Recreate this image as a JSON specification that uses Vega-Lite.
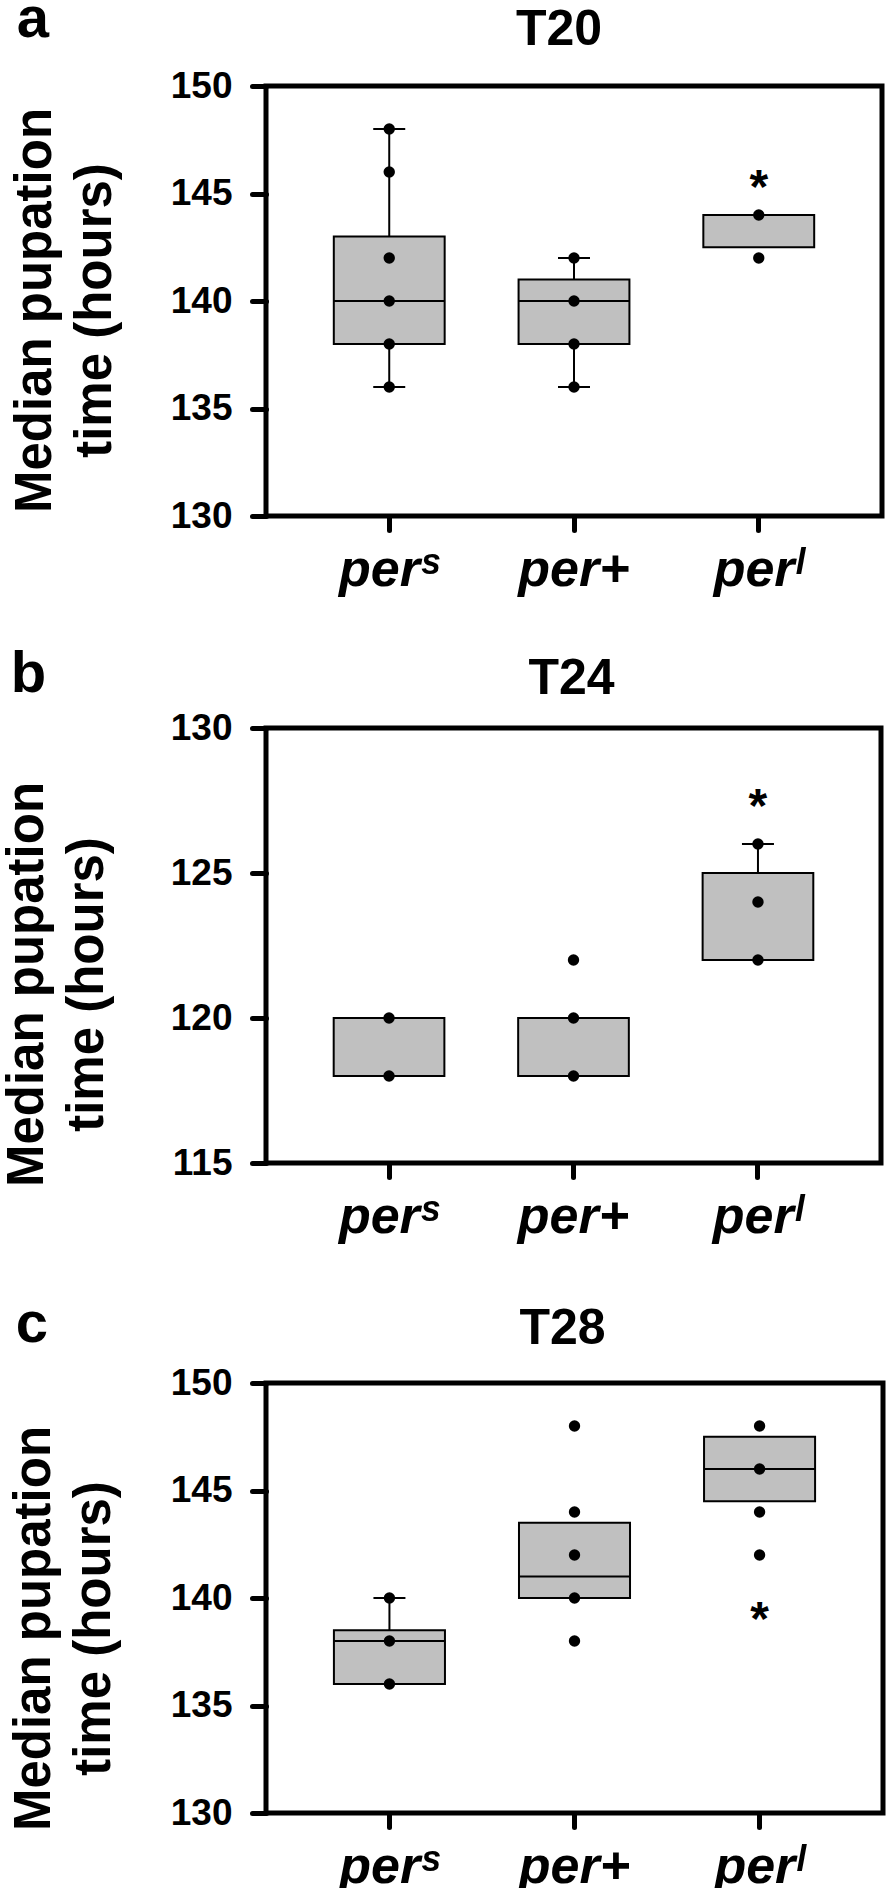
{
  "$schema": "https://vega.github.io/schema/vega-lite/v6.json",
  "background": "white",
  "padding": {"left": -2, "top": -10, "right": 0, "bottom": 0},
  "spacing": 47,
  "config": {
    "view": {"stroke": "black", "strokeWidth": 5},
    "font": "Liberation Sans",
    "axis": {"domain": false, "grid": false, "tickColor": "black", "tickWidth": 5, "tickSize": 14, "tickCap": "round", "labelColor": "black", "labelFont": "Liberation Sans", "labelFontWeight": "bold", "titleFont": "Liberation Sans", "titleFontWeight": "bold", "titleColor": "black"},
    "axisX": {"labelFontSize": 52, "labelFontStyle": "italic", "labelAngle": 0, "labelPadding": 14},
    "axisY": {"labelFontSize": 37, "labelPadding": 20, "titleFontSize": 51, "titleLineHeight": 60, "titlePadding": 49},
    "title": {"font": "Liberation Sans", "fontWeight": "bold", "fontSize": 50, "color": "black"}
  },
  "datasets": {
    "boxes": [
      {"panel": "a", "g": "perˢ", "q1": 138, "q3": 143, "med": 140},
      {"panel": "a", "g": "per+", "q1": 138, "q3": 141, "med": 140},
      {"panel": "a", "g": "perˡ", "q1": 142.5, "q3": 144, "med": null},
      {"panel": "b", "g": "perˢ", "q1": 118, "q3": 120, "med": null},
      {"panel": "b", "g": "per+", "q1": 118, "q3": 120, "med": null},
      {"panel": "b", "g": "perˡ", "q1": 122, "q3": 125, "med": null},
      {"panel": "c", "g": "perˢ", "q1": 136, "q3": 138.5, "med": 138},
      {"panel": "c", "g": "per+", "q1": 140, "q3": 143.5, "med": 141},
      {"panel": "c", "g": "perˡ", "q1": 144.5, "q3": 147.5, "med": 146}
    ],
    "whiskers": [
      {"panel": "a", "g": "perˢ", "lo": 136, "hi": 138},
      {"panel": "a", "g": "perˢ", "lo": 143, "hi": 148},
      {"panel": "a", "g": "per+", "lo": 136, "hi": 138},
      {"panel": "a", "g": "per+", "lo": 141, "hi": 142},
      {"panel": "b", "g": "perˡ", "lo": 125, "hi": 126},
      {"panel": "c", "g": "perˢ", "lo": 138.5, "hi": 140}
    ],
    "caps": [
      {"panel": "a", "g": "perˢ", "v": 136},
      {"panel": "a", "g": "perˢ", "v": 148},
      {"panel": "a", "g": "per+", "v": 136},
      {"panel": "a", "g": "per+", "v": 142},
      {"panel": "b", "g": "perˡ", "v": 126},
      {"panel": "c", "g": "perˢ", "v": 140}
    ],
    "points": [
      {"panel": "a", "g": "perˢ", "v": 148},
      {"panel": "a", "g": "perˢ", "v": 146},
      {"panel": "a", "g": "perˢ", "v": 142},
      {"panel": "a", "g": "perˢ", "v": 140},
      {"panel": "a", "g": "perˢ", "v": 138},
      {"panel": "a", "g": "perˢ", "v": 136},
      {"panel": "a", "g": "per+", "v": 142},
      {"panel": "a", "g": "per+", "v": 140},
      {"panel": "a", "g": "per+", "v": 138},
      {"panel": "a", "g": "per+", "v": 136},
      {"panel": "a", "g": "perˡ", "v": 144},
      {"panel": "a", "g": "perˡ", "v": 142},
      {"panel": "b", "g": "perˢ", "v": 120},
      {"panel": "b", "g": "perˢ", "v": 118},
      {"panel": "b", "g": "per+", "v": 122},
      {"panel": "b", "g": "per+", "v": 120},
      {"panel": "b", "g": "per+", "v": 118},
      {"panel": "b", "g": "perˡ", "v": 126},
      {"panel": "b", "g": "perˡ", "v": 124},
      {"panel": "b", "g": "perˡ", "v": 122},
      {"panel": "c", "g": "perˢ", "v": 140},
      {"panel": "c", "g": "perˢ", "v": 138},
      {"panel": "c", "g": "perˢ", "v": 136},
      {"panel": "c", "g": "per+", "v": 148},
      {"panel": "c", "g": "per+", "v": 144},
      {"panel": "c", "g": "per+", "v": 142},
      {"panel": "c", "g": "per+", "v": 140},
      {"panel": "c", "g": "per+", "v": 138},
      {"panel": "c", "g": "perˡ", "v": 148},
      {"panel": "c", "g": "perˡ", "v": 146},
      {"panel": "c", "g": "perˡ", "v": 144},
      {"panel": "c", "g": "perˡ", "v": 142}
    ],
    "stars": [
      {"panel": "a", "g": "perˡ", "v": 145.65},
      {"panel": "b", "g": "perˡ", "v": 127.56},
      {"panel": "c", "g": "perˡ", "v": 139.35}
    ]
  },
  "vconcat": [
    {
      "title": {"text": "a", "anchor": "start", "frame": "bounds", "fontSize": 58, "offset": -46, "dx": 10},
      "vconcat": [
        {
          "width": 616, "height": 430,
          "title": {"text": "T20", "anchor": "middle", "offset": 12, "dx": -15},
          "layer": [
            {"data": {"name": "whiskers"}, "transform": [{"filter": "datum.panel === 'a'"}],
             "mark": {"type": "rule", "strokeWidth": 2, "color": "black"},
             "encoding": {
               "x": {"field": "g", "type": "nominal", "sort": ["perˢ", "per+", "perˡ"], "scale": {"type": "band", "paddingInner": 0.4, "paddingOuter": 0.367}, "title": null},
               "y": {"field": "lo", "type": "quantitative", "scale": {"domain": [130, 150], "nice": false, "zero": false}, "axis": {"values": [130, 135, 140, 145, 150], "titleY": 224}, "title": ["Median pupation", "time (hours)"]},
               "y2": {"field": "hi"}}},
            {"data": {"name": "boxes"}, "transform": [{"filter": "datum.panel === 'a'"}],
             "mark": {"type": "bar", "fill": "#c0c0c0", "stroke": "black", "strokeWidth": 2, "opacity": 1},
             "encoding": {
               "x": {"field": "g", "type": "nominal", "sort": ["perˢ", "per+", "perˡ"], "scale": {"type": "band", "paddingInner": 0.4, "paddingOuter": 0.367}, "title": null},
               "y": {"field": "q1", "type": "quantitative", "scale": {"domain": [130, 150], "nice": false, "zero": false}, "axis": {"values": [130, 135, 140, 145, 150], "titleY": 224}, "title": ["Median pupation", "time (hours)"]},
               "y2": {"field": "q3"}}},
            {"data": {"name": "boxes"}, "transform": [{"filter": "datum.panel === 'a' && datum.med != null"}],
             "mark": {"type": "tick", "size": 111, "thickness": 2, "color": "black", "opacity": 1},
             "encoding": {
               "x": {"field": "g", "type": "nominal", "sort": ["perˢ", "per+", "perˡ"], "scale": {"type": "band", "paddingInner": 0.4, "paddingOuter": 0.367}, "title": null},
               "y": {"field": "med", "type": "quantitative", "scale": {"domain": [130, 150], "nice": false, "zero": false}, "axis": {"values": [130, 135, 140, 145, 150], "titleY": 224}, "title": ["Median pupation", "time (hours)"]}}},
            {"data": {"name": "caps"}, "transform": [{"filter": "datum.panel === 'a'"}],
             "mark": {"type": "tick", "size": 32, "thickness": 2, "color": "black", "opacity": 1},
             "encoding": {
               "x": {"field": "g", "type": "nominal", "sort": ["perˢ", "per+", "perˡ"], "scale": {"type": "band", "paddingInner": 0.4, "paddingOuter": 0.367}, "title": null},
               "y": {"field": "v", "type": "quantitative", "scale": {"domain": [130, 150], "nice": false, "zero": false}, "axis": {"values": [130, 135, 140, 145, 150], "titleY": 224}, "title": ["Median pupation", "time (hours)"]}}},
            {"data": {"name": "points"}, "transform": [{"filter": "datum.panel === 'a'"}],
             "mark": {"type": "circle", "size": 130, "color": "black", "opacity": 1},
             "encoding": {
               "x": {"field": "g", "type": "nominal", "sort": ["perˢ", "per+", "perˡ"], "scale": {"type": "band", "paddingInner": 0.4, "paddingOuter": 0.367}, "title": null},
               "y": {"field": "v", "type": "quantitative", "scale": {"domain": [130, 150], "nice": false, "zero": false}, "axis": {"values": [130, 135, 140, 145, 150], "titleY": 224}, "title": ["Median pupation", "time (hours)"]}}},
            {"data": {"name": "stars"}, "transform": [{"filter": "datum.panel === 'a'"}],
             "mark": {"type": "text", "text": "*", "font": "Liberation Sans", "fontSize": 48, "fontWeight": "bold", "baseline": "middle", "dy": 9, "color": "black"},
             "encoding": {
               "x": {"field": "g", "type": "nominal", "sort": ["perˢ", "per+", "perˡ"], "scale": {"type": "band", "paddingInner": 0.4, "paddingOuter": 0.367}, "title": null},
               "y": {"field": "v", "type": "quantitative", "scale": {"domain": [130, 150], "nice": false, "zero": false}, "axis": {"values": [130, 135, 140, 145, 150], "titleY": 224}, "title": ["Median pupation", "time (hours)"]}}}
          ]
        }
      ]
    },
    {
      "spacing": 50,
      "vconcat": [
        {
          "title": {"text": "b", "anchor": "start", "frame": "bounds", "fontSize": 58, "offset": -52, "dx": 12},
          "vconcat": [
            {
              "width": 615, "height": 435,
              "title": {"text": "T24", "anchor": "middle", "offset": 5, "dx": -2},
              "layer": [
                {"data": {"name": "whiskers"}, "transform": [{"filter": "datum.panel === 'b'"}],
                 "mark": {"type": "rule", "strokeWidth": 2, "color": "black"},
                 "encoding": {
                   "x": {"field": "g", "type": "nominal", "sort": ["perˢ", "per+", "perˡ"], "scale": {"type": "band", "paddingInner": 0.4, "paddingOuter": 0.367}, "title": null},
                   "y": {"field": "lo", "type": "quantitative", "scale": {"domain": [115, 130], "nice": false, "zero": false}, "axis": {"values": [115, 120, 125, 130], "titleY": 256, "titlePadding": 57}, "title": ["Median pupation", "time (hours)"]},
                   "y2": {"field": "hi"}}},
                {"data": {"name": "boxes"}, "transform": [{"filter": "datum.panel === 'b'"}],
                 "mark": {"type": "bar", "fill": "#c0c0c0", "stroke": "black", "strokeWidth": 2, "opacity": 1},
                 "encoding": {
                   "x": {"field": "g", "type": "nominal", "sort": ["perˢ", "per+", "perˡ"], "scale": {"type": "band", "paddingInner": 0.4, "paddingOuter": 0.367}, "title": null},
                   "y": {"field": "q1", "type": "quantitative", "scale": {"domain": [115, 130], "nice": false, "zero": false}, "axis": {"values": [115, 120, 125, 130], "titleY": 256, "titlePadding": 57}, "title": ["Median pupation", "time (hours)"]},
                   "y2": {"field": "q3"}}},
                {"data": {"name": "caps"}, "transform": [{"filter": "datum.panel === 'b'"}],
                 "mark": {"type": "tick", "size": 32, "thickness": 2, "color": "black", "opacity": 1},
                 "encoding": {
                   "x": {"field": "g", "type": "nominal", "sort": ["perˢ", "per+", "perˡ"], "scale": {"type": "band", "paddingInner": 0.4, "paddingOuter": 0.367}, "title": null},
                   "y": {"field": "v", "type": "quantitative", "scale": {"domain": [115, 130], "nice": false, "zero": false}, "axis": {"values": [115, 120, 125, 130], "titleY": 256, "titlePadding": 57}, "title": ["Median pupation", "time (hours)"]}}},
                {"data": {"name": "points"}, "transform": [{"filter": "datum.panel === 'b'"}],
                 "mark": {"type": "circle", "size": 130, "color": "black", "opacity": 1},
                 "encoding": {
                   "x": {"field": "g", "type": "nominal", "sort": ["perˢ", "per+", "perˡ"], "scale": {"type": "band", "paddingInner": 0.4, "paddingOuter": 0.367}, "title": null},
                   "y": {"field": "v", "type": "quantitative", "scale": {"domain": [115, 130], "nice": false, "zero": false}, "axis": {"values": [115, 120, 125, 130], "titleY": 256, "titlePadding": 57}, "title": ["Median pupation", "time (hours)"]}}},
                {"data": {"name": "stars"}, "transform": [{"filter": "datum.panel === 'b'"}],
                 "mark": {"type": "text", "text": "*", "font": "Liberation Sans", "fontSize": 48, "fontWeight": "bold", "baseline": "middle", "dy": 9, "color": "black"},
                 "encoding": {
                   "x": {"field": "g", "type": "nominal", "sort": ["perˢ", "per+", "perˡ"], "scale": {"type": "band", "paddingInner": 0.4, "paddingOuter": 0.367}, "title": null},
                   "y": {"field": "v", "type": "quantitative", "scale": {"domain": [115, 130], "nice": false, "zero": false}, "axis": {"values": [115, 120, 125, 130], "titleY": 256, "titlePadding": 57}, "title": ["Median pupation", "time (hours)"]}}}
              ]
            }
          ]
        },
        {
          "title": {"text": "c", "anchor": "start", "frame": "bounds", "fontSize": 58, "offset": -52, "dx": 10},
          "vconcat": [
            {
              "width": 617, "height": 430,
              "title": {"text": "T28", "anchor": "middle", "offset": 10, "dx": -12},
              "layer": [
                {"data": {"name": "whiskers"}, "transform": [{"filter": "datum.panel === 'c'"}],
                 "mark": {"type": "rule", "strokeWidth": 2, "color": "black"},
                 "encoding": {
                   "x": {"field": "g", "type": "nominal", "sort": ["perˢ", "per+", "perˡ"], "scale": {"type": "band", "paddingInner": 0.4, "paddingOuter": 0.367}, "title": null},
                   "y": {"field": "lo", "type": "quantitative", "scale": {"domain": [130, 150], "nice": false, "zero": false}, "axis": {"values": [130, 135, 140, 145, 150], "titleY": 245, "titlePadding": 50}, "title": ["Median pupation", "time (hours)"]},
                   "y2": {"field": "hi"}}},
                {"data": {"name": "boxes"}, "transform": [{"filter": "datum.panel === 'c'"}],
                 "mark": {"type": "bar", "fill": "#c0c0c0", "stroke": "black", "strokeWidth": 2, "opacity": 1},
                 "encoding": {
                   "x": {"field": "g", "type": "nominal", "sort": ["perˢ", "per+", "perˡ"], "scale": {"type": "band", "paddingInner": 0.4, "paddingOuter": 0.367}, "title": null},
                   "y": {"field": "q1", "type": "quantitative", "scale": {"domain": [130, 150], "nice": false, "zero": false}, "axis": {"values": [130, 135, 140, 145, 150], "titleY": 245, "titlePadding": 50}, "title": ["Median pupation", "time (hours)"]},
                   "y2": {"field": "q3"}}},
                {"data": {"name": "boxes"}, "transform": [{"filter": "datum.panel === 'c' && datum.med != null"}],
                 "mark": {"type": "tick", "size": 111, "thickness": 2, "color": "black", "opacity": 1},
                 "encoding": {
                   "x": {"field": "g", "type": "nominal", "sort": ["perˢ", "per+", "perˡ"], "scale": {"type": "band", "paddingInner": 0.4, "paddingOuter": 0.367}, "title": null},
                   "y": {"field": "med", "type": "quantitative", "scale": {"domain": [130, 150], "nice": false, "zero": false}, "axis": {"values": [130, 135, 140, 145, 150], "titleY": 245, "titlePadding": 50}, "title": ["Median pupation", "time (hours)"]}}},
                {"data": {"name": "caps"}, "transform": [{"filter": "datum.panel === 'c'"}],
                 "mark": {"type": "tick", "size": 32, "thickness": 2, "color": "black", "opacity": 1},
                 "encoding": {
                   "x": {"field": "g", "type": "nominal", "sort": ["perˢ", "per+", "perˡ"], "scale": {"type": "band", "paddingInner": 0.4, "paddingOuter": 0.367}, "title": null},
                   "y": {"field": "v", "type": "quantitative", "scale": {"domain": [130, 150], "nice": false, "zero": false}, "axis": {"values": [130, 135, 140, 145, 150], "titleY": 245, "titlePadding": 50}, "title": ["Median pupation", "time (hours)"]}}},
                {"data": {"name": "points"}, "transform": [{"filter": "datum.panel === 'c'"}],
                 "mark": {"type": "circle", "size": 130, "color": "black", "opacity": 1},
                 "encoding": {
                   "x": {"field": "g", "type": "nominal", "sort": ["perˢ", "per+", "perˡ"], "scale": {"type": "band", "paddingInner": 0.4, "paddingOuter": 0.367}, "title": null},
                   "y": {"field": "v", "type": "quantitative", "scale": {"domain": [130, 150], "nice": false, "zero": false}, "axis": {"values": [130, 135, 140, 145, 150], "titleY": 245, "titlePadding": 50}, "title": ["Median pupation", "time (hours)"]}}},
                {"data": {"name": "stars"}, "transform": [{"filter": "datum.panel === 'c'"}],
                 "mark": {"type": "text", "text": "*", "font": "Liberation Sans", "fontSize": 48, "fontWeight": "bold", "baseline": "middle", "dy": 9, "color": "black"},
                 "encoding": {
                   "x": {"field": "g", "type": "nominal", "sort": ["perˢ", "per+", "perˡ"], "scale": {"type": "band", "paddingInner": 0.4, "paddingOuter": 0.367}, "title": null},
                   "y": {"field": "v", "type": "quantitative", "scale": {"domain": [130, 150], "nice": false, "zero": false}, "axis": {"values": [130, 135, 140, 145, 150], "titleY": 245, "titlePadding": 50}, "title": ["Median pupation", "time (hours)"]}}}
              ]
            }
          ]
        }
      ]
    }
  ]
}
